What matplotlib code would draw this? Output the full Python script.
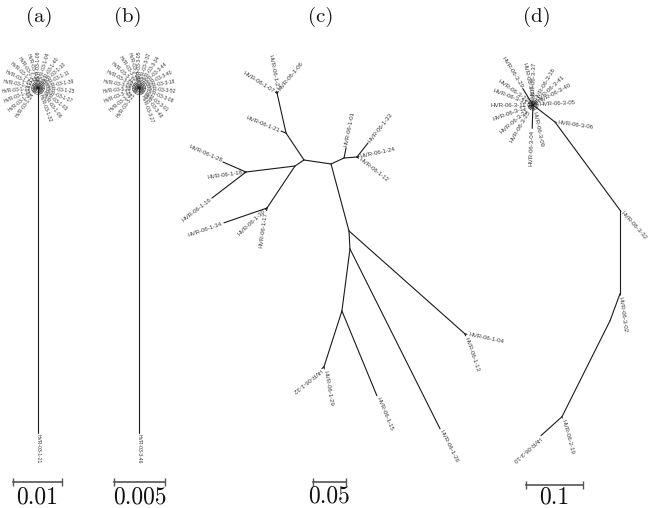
import matplotlib
matplotlib.use("Agg")
import matplotlib.pyplot as plt
from matplotlib.patches import Circle
import numpy as np

# ---------------- data ----------------
panel_titles = ["(a)", "(b)", "(c)", "(d)"]
scale_lengths = [0.01, 0.005, 0.05, 0.1]
scale_labels = ["0.01", "0.005", "0.05", "0.1"]

# tree (a): child, parent, branch length, branch angle (deg)
a_child = ["HVR-03-1-21",
           "HVR-03-1-32", "HVR-03-1-06", "HVR-03-1-03", "HVR-03-1-27", "HVR-03-1-25",
           "HVR-03-1-39", "HVR-03-1-11", "HVR-03-1-10", "HVR-03-1-40", "HVR-03-1-04",
           "HVR-03-1-08", "HVR-03-1-14", "HVR-03-1-19", "HVR-03-1-12", "HVR-03-1-02",
           "HVR-03-1-22", "HVR-03-1-15", "HVR-03-1-18", "HVR-03-1-30", "HVR-03-1-24"]
a_parent = ["a0"] * 21
a_length = [0.0704,
            0.0013, 0.0014, 0.0012, 0.0013, 0.0014, 0.0013, 0.0012, 0.0014, 0.0013, 0.0013,
            0.0014, 0.0012, 0.0013, 0.0014, 0.0013, 0.0012, 0.0013, 0.0014, 0.0013, 0.0012]
a_angle = [-90,
           -70, -54, -38, -22, -6, 10, 26, 42, 58, 74,
           90, 106, 122, 138, 154, 170, 186, 202, 218, 234]
a_rings = [0.0004, 0.0007, 0.0010, 0.0013]

# tree (b)
b_child = ["HVR-03-3-46",
           "HVR-03-3-27", "HVR-03-3-48", "HVR-03-3-01", "HVR-03-3-08", "HVR-03-3-52",
           "HVR-03-3-18", "HVR-03-3-40", "HVR-03-3-44", "HVR-03-3-34", "HVR-03-3-32",
           "HVR-03-3-05", "HVR-03-3-15", "HVR-03-3-20", "HVR-03-3-11", "HVR-03-3-03",
           "HVR-03-3-09", "HVR-03-3-26", "HVR-03-3-13", "HVR-03-3-30", "HVR-03-3-21"]
b_parent = ["b0"] * 21
b_length = [0.0338,
            0.00064, 0.00068, 0.00062, 0.00064, 0.00068, 0.00064, 0.00062, 0.00068, 0.00064, 0.00064,
            0.00068, 0.00062, 0.00064, 0.00068, 0.00064, 0.00062, 0.00064, 0.00068, 0.00064, 0.00062]
b_angle = [-90,
           -70, -54, -38, -22, -6, 10, 26, 42, 58, 74,
           90, 106, 122, 138, 154, 170, 186, 202, 218, 234]
b_rings = [0.0002, 0.00035, 0.0005, 0.00065]

# tree (c)
c_child = ["B", "A", "HVR-06-1-21", "HVR-06-1-07", "HVR-06-1-27", "HVR-06-1-06",
           "E", "F", "G", "HVR-06-1-28", "HVR-06-1-18", "HVR-06-1-16",
           "HVR-06-1-34", "HVR-06-1-30", "HVR-06-1-17",
           "D", "H", "HVR-06-1-01", "J", "HVR-06-1-33", "HVR-06-1-24", "HVR-06-1-12",
           "I", "N", "HVR-06-1-04", "HVR-06-1-13", "K", "HVR-06-1-26", "L",
           "HVR-06-1-15", "M", "HVR-06-1-29", "HVR-06-1-32"]
c_parent = ["C", "B", "B", "A", "A", "A",
            "C", "E", "E", "F", "F", "F",
            "G", "G", "G",
            "C", "D", "H", "H", "J", "J", "J",
            "D", "I", "N", "N", "I", "K", "K",
            "L", "L", "M", "M"]
c_length = [0.049, 0.062, 0.008, 0.003, 0.003, 0.003,
            0.0164, 0.0748, 0.0765, 0.038, 0.003, 0.065,
            0.069, 0.003, 0.004,
            0.0414, 0.0217, 0.0155, 0.0197, 0.027, 0.003, 0.003,
            0.105, 0.235, 0.003, 0.003, 0.0273, 0.305, 0.0947,
            0.139, 0.089, 0.003, 0.004]
c_angle = [123.7, 102.7, 158, 148, 101, 50,
           213.7, 187, 236.3, 156.5, 188, 217.4,
           199, 223, 262,
           -8.4, 24.8, 78.7, 4.4, 51.8, 12, -38,
           -75, -41.6, -12, -71, -86.8, -63.4, -97.4,
           -67.6, -107.8, -80, 219]
c_flipped = ["HVR-06-1-06", "HVR-06-1-32"]

# tree (d)
d_child = ["R", "HVR-06-3-06", "S", "HVR-06-3-32", "T", "HVR-06-3-02", "V", "U",
           "HVR-06-2-19", "HVR-06-3-10",
           "HVR-06-3-29", "HVR-06-3-04", "HVR-06-3-38", "HVR-06-3-37", "HVR-06-3-16",
           "HVR-06-3-41", "HVR-06-3-40", "HVR-06-3-05", "HVR-06-3-23", "HVR-06-3-31",
           "HVR-06-3-11", "HVR-06-3-12", "HVR-06-3-21", "HVR-06-3-25", "HVR-06-3-09"]
d_parent = ["Q", "R", "R", "S", "S", "T", "T", "V",
            "U", "U",
            "Q", "Q", "Q", "Q", "Q",
            "Q", "Q", "Q", "Q", "Q",
            "Q", "Q", "Q", "Q", "Q"]
d_length = [0.0488, 0.003, 0.192, 0.003, 0.147, 0.003, 0.0505, 0.188,
            0.003, 0.0497,
            0.034, 0.041, 0.009, 0.009, 0.009,
            0.009, 0.009, 0.009, 0.009, 0.009,
            0.009, 0.009, 0.009, 0.009, 0.009]
d_angle = [-37.7, -8, -53.6, -48, -90, -82, 249.7, 243.4,
           -75, 222,
           122, -92, 102, 88, 60,
           43, 28, 3, 145, 160,
           180, 200, 220, 240, -78]
d_flipped = ["HVR-06-3-10"]
d_rings = [0.004, 0.0065, 0.009]

# ---------------- drawing ----------------
W, H = 648, 508
fig = plt.figure(figsize=(W / 100, H / 100), dpi=100)
LINE = "#1a1a1a"
TXT = "#3a3a3a"


def draw_tree(root, root_px, ppu, child, parent, length, angle, flipped, fs,
              rings, bar_len, bar_lab, bar_cx, bar_py, lab_py, pad_px=1.5,
              star_lw=0.8):
    ax = fig.add_axes([0, 0, 1, 1])
    rx, ry = root_px
    ax.set_xlim(-rx / ppu, (W - rx) / ppu)
    ax.set_ylim((ry - H) / ppu, ry / ppu)
    ax.axis("off")
    ax.patch.set_alpha(0)
    pos = {root: (0.0, 0.0)}
    for ch, pa, L, ang in zip(child, parent, length, angle):
        x0, y0 = pos[pa]
        t = np.deg2rad(ang)
        x1, y1 = x0 + L * np.cos(t), y0 + L * np.sin(t)
        pos[ch] = (x1, y1)
        lw = 0.8 if L * ppu > 15 else star_lw
        ax.plot([x0, x1], [y0, y1], color=LINE, lw=lw, solid_capstyle="round")
        if ch.startswith("HVR"):
            pad = pad_px / ppu
            tx, ty = x1 + pad * np.cos(t), y1 + pad * np.sin(t)
            a = ang % 360
            if ch in flipped:
                rot, ha = a, "left"
            elif 90 < a < 270:
                rot, ha = a - 180, "right"
            else:
                rot, ha = (a if a <= 90 else a - 360), "left"
            ax.text(tx, ty, ch, rotation=rot, rotation_mode="anchor", ha=ha,
                    va="center", fontsize=fs, color=TXT, family="Liberation Sans")
    for r in rings:
        ax.add_patch(Circle((0, 0), r, fill=False, lw=0.45, ec="#555555"))
    cx = (bar_cx - rx) / ppu
    by = (ry - bar_py) / ppu
    ax.plot([cx - bar_len / 2, cx + bar_len / 2], [by, by], color="#555555",
            lw=1.2, marker="|", ms=6, mew=1.0)
    ax.text(cx, (ry - lab_py) / ppu, bar_lab, ha="center", va="center",
            fontsize=17, family="cmr10", color="#111111")


draw_tree("a0", (38, 88), 4900, a_child, a_parent, a_length, a_angle, [], 3.6,
          a_rings, scale_lengths[0], scale_labels[0], 37.5, 482, 497, pad_px=1.0,
          star_lw=0.35)
draw_tree("b0", (139, 88), 10200, b_child, b_parent, b_length, b_angle, [], 3.6,
          b_rings, scale_lengths[1], scale_labels[1], 139.5, 482, 497, pad_px=1.0,
          star_lw=0.35)
draw_tree("C", (304, 160), 660, c_child, c_parent, c_length, c_angle, c_flipped, 4.4,
          [], scale_lengths[2], scale_labels[2], 329.5, 481.5, 496)
draw_tree("Q", (533, 105), 570, d_child, d_parent, d_length, d_angle, d_flipped, 4.4,
          d_rings, scale_lengths[3], scale_labels[3], 554.5, 485, 497.5, star_lw=0.5)

for t, x in zip(panel_titles, [39, 128, 321, 537]):
    fig.text(x / W, 1 - 17 / H, t, ha="center", va="center", fontsize=15,
             family="cmr10", color="#111111")

fig.savefig("out.png", dpi=100)
